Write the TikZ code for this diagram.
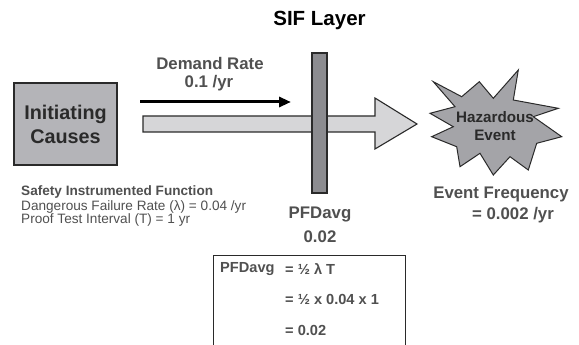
\documentclass[tikz,border=0pt]{standalone}
\usepackage{fontspec}
\setmainfont{Liberation Sans}
\usetikzlibrary{arrows.meta}
\definecolor{txtgray}{HTML}{505050}
\definecolor{dark}{HTML}{2A2A2A}
\definecolor{boxfill}{HTML}{B4B4B8}
\definecolor{shaftfill}{HTML}{D6D6D8}
\definecolor{barfill}{HTML}{8C8C90}
\definecolor{starfill}{HTML}{A4A4A8}
\tikzset{
  lbl/.style={font=\bfseries\fontsize{16.8}{19}\selectfont, text=txtgray, inner sep=0pt},
  frm/.style={font=\bfseries\fontsize{14.6}{17}\selectfont, text=txtgray, inner sep=0pt, anchor=west},
  small/.style={font=\fontsize{13.6}{15}\selectfont, text=txtgray, inner sep=0pt, anchor=west},
  shapeline/.style={draw=dark, line width=1.1pt},
}
\begin{document}
\begin{tikzpicture}[x=1pt,y=-1pt]
\useasboundingbox (0,0) rectangle (579,345);
% initiating causes box
\node[shapeline, fill=boxfill, minimum width=103pt, minimum height=82pt, align=center,
  font=\bfseries\fontsize{19.8}{24}\selectfont, text=dark] (ic) at (65.5,124) {Initiating\\Causes};
% big arrow
\draw[shapeline, fill=shaftfill] (143,116) -- (375,116) -- (375,98) -- (417,124) -- (375,149) -- (375,132) -- (143,132) -- cycle;
% SIF bar
\node[shapeline, fill=barfill, minimum width=15pt, minimum height=140pt, inner sep=0pt] (bar) at (319.5,123) {};
\node[font=\bfseries\fontsize{20.5}{24}\selectfont, text=black, inner sep=0pt] (sif) at (319.5,20) {SIF Layer};
% demand arrow
\coordinate (da) at (140,102);
\coordinate (db) at (291,102);
\draw[line width=3pt, black, -{Triangle[length=12pt,width=10pt]}] (da) -- (db);
\node[lbl] (dr) at (210,63) {Demand Rate};
\node[lbl] (dv) at (209,83) {0.1 /yr};
% star
\draw[draw=dark, line width=1pt, fill=starfill]
  (433.3,81.7) -- (461.7,96.7) -- (479.3,81.7) -- (493.3,98.3) -- (518.3,70) -- (513.3,100)
  -- (558.3,108.3) -- (533.3,116.7) -- (561.7,136.7) -- (536.7,143.3) -- (528.3,170)
  -- (510,156.7) -- (493.3,175) -- (480,153.3) -- (460,166.7) -- (456.7,146.7)
  -- (431.7,136.7) -- (453.3,126.7) -- (430,113.3) -- (455,106.7) -- cycle;
\node[font=\bfseries\fontsize{15.2}{18}\selectfont, text=dark, align=center, inner sep=0pt] (he) at (495,126) {Hazardous\\Event};
\node[lbl] (ef) at (501,194) {Event Frequency};
\node[lbl] (efv) at (513,215) {= 0.002 /yr};
% PFD under bar
\node[lbl] (pfd) at (320,215) {PFDavg};
\node[lbl] (pfdv) at (320,237) {0.02};
% SIF description
\node[small, font=\bfseries\fontsize{13.6}{15}\selectfont] (s1) at (21,192) {Safety Instrumented Function};
\node[small] (s2) at (21,206.5) {Dangerous Failure Rate (λ) = 0.04 /yr};
\node[small] (s3) at (21,220) {Proof Test Interval (T) = 1 yr};
% formula box
\draw[draw=dark, line width=1pt] (213,346) -- (213,255) -- (405,255) -- (405,346);
\node[frm] (f1) at (220,269) {PFDavg};
\node[frm] (f2) at (285,269) {= ½ λ T};
\node[frm] (f3) at (285,299) {= ½ x 0.04 x 1};
\node[frm] (f4) at (285,330) {= 0.02};
\end{tikzpicture}
\end{document}
